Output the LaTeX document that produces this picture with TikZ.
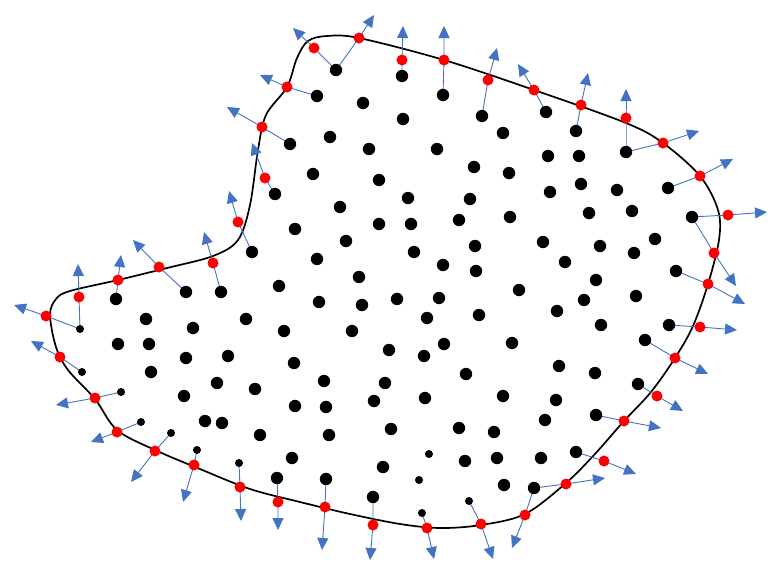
\documentclass[tikz,border=0pt]{standalone}
\usetikzlibrary{arrows.meta}
\definecolor{nblue}{HTML}{4472C4}
\definecolor{pred}{HTML}{FF0000}
\tikzset{
  normalarrow/.style={draw=nblue, line width=0.9pt, -{Triangle[length=12pt,width=11pt]}},
  boundary/.style={line width=1.7pt},
  bigdot/.style={fill=black},
  reddot/.style={fill=pred},
}
\begin{document}
\begin{tikzpicture}[x=1pt,y=-1pt]
\useasboundingbox (0,0) rectangle (780,573);
% boundary curve
\draw[boundary] plot[smooth cycle, tension=0.55] coordinates {
 (50,315) (56,299) (70,291) (118,280) (167,268) (213,256) (238,240) (250,205) (258,150)
 (266,115) (287,87) (297,58) (308,41) (327,36) (359,38) (444,60) (534,90) (626,123)
 (663,143) (700,176) (718,210) (719,240) (708,284) (693,326) (675,358) (651,392)
 (624,421) (594,455) (566,483) (525,514) (481,525) (440,528) (400,524) (350,514)
 (300,502) (250,489) (200,469) (155,450) (117,430) (95,399) (68,370) (56,347)};
% interior points that emit normals
\foreach \n/\x/\y in {A1/336/70, A2/402/76, A3/443/95, A4/482/116, A5/546/112, A6/576/131,
  A7/626/152, A8/668/188, A9/692/217, A10/676/271, A11/669/325, A12/645/340, A13/638/384,
  A14/596/415, A15/576/452, A16/534/488, a17/469/501, a18/422/513, A19/373/497, A20/326/479,
  A21/277/478, a22/239/463, a23/197/450, a24/171/433, a25/141/422, a26/121/392, a27/82/372,
  a28/80/329, A29/116/299, A30/186/292, A31/221/292, A32/252/252, A33/275/194, A34/290/144,
  A35/317/96}
  \coordinate (\n) at (\x,\y);
% boundary points
\foreach \i/\x/\y in {1/314/48, 2/359/38, 3/402/60, 4/444/60, 5/488/80, 6/534/90, 7/581/105,
  8/626/118, 9/663/143, 10/700/176, 11/728/215, 12/714/253, 13/708/284, 14/700/327,
  15/675/358, 16/657/396, 17/624/421, 18/604/461, 19/566/484, 20/525/515, 21/481/524,
  22/427/528, 23/373/525, 24/325/507, 25/278/502, 26/240/487, 27/194/465, 28/155/451,
  29/117/432, 30/95/398, 31/60/357, 32/46/316, 33/79/297, 34/118/280, 35/159/267,
  36/213/263, 37/238/222, 38/265/178, 39/262/127, 40/287/87}
  \coordinate (r\i) at (\x,\y);
% arrow tips
\foreach \i/\x/\y in {1/293/28, 2/374/15, 3/403/26, 4/444/26, 5/497/48, 6/518/64, 7/588/73,
  8/626/89, 9/699/131, 10/733/159, 11/767/212, 12/736/286, 13/745/304, 14/737/330,
  15/708/374, 16/683/411, 17/661/428, 18/636/474, 19/605/478, 20/512/548, 21/493/559,
  22/434/559, 23/370/560, 24/322/550, 25/278/530, 26/241/521, 27/183/502, 28/131/482,
  29/91/442, 30/56/405, 31/31/341, 32/14/305, 33/78/264, 34/121/255, 35/133/240,
  36/204/232, 37/229/191, 38/252/143, 39/227/107, 40/260/75}
  \coordinate (t\i) at (\x,\y);
% normals
\foreach \s/\i in {A1/1, A1/2, A2/3, A3/4, A4/5, A5/6, A6/7, A7/8, A7/9, A8/10, A9/11, A9/12,
  A10/13, A11/14, A12/15, A13/16, A14/17, A15/18, A16/19, A16/20, a17/21, a18/22, A19/23,
  A20/24, A21/25, a22/26, a23/27, a24/28, a25/29, a26/30, a27/31, a28/32, a28/33, A29/34,
  A30/35, A31/36, A32/37, A33/38, A34/39, A35/40}
  \draw[normalarrow] (\s) -- (r\i) -- (t\i);
% red boundary dots
\foreach \i in {1,...,40} \fill[reddot] (r\i) circle (5.5pt);
% black dots of the normal sources
\foreach \n in {A1,A2,A3,A4,A5,A6,A7,A8,A9,A10,A11,A12,A13,A14,A15,A16,A19,A20,A21,A29,A30,A31,A32,A33,A34,A35}
  \fill[bigdot] (\n) circle (6.2pt);
\foreach \n in {a17,a18,a22,a23,a24,a25,a26,a27,a28}
  \fill[bigdot] (\n) circle (4pt);
% other interior points
\foreach \x/\y in {363/103, 403/119, 330/137, 369/149, 437/149, 313/174, 379/180, 503/133,
  474/167, 509/173, 408/198, 470/199, 548/156, 579/156, 550/192, 581/184, 617/190, 510/217,
  589/213, 632/211, 655/239, 543/242, 600/246, 634/253, 565/262, 596/280, 519/290, 584/300,
  636/296, 557/311, 601/325, 512/343, 559/366, 595/373, 503/396, 556/400, 545/420,
  340/207, 379/224, 411/224, 459/220, 295/229, 346/241, 414/252, 475/246, 317/259, 443/265,
  476/271, 359/277, 279/286, 319/302, 362/305, 397/299, 439/298, 479/315, 246/319, 427/318,
  284/331, 352/331, 389/350, 424/356, 444/344, 228/356, 294/363, 217/383, 255/389, 324/381,
  385/383, 466/374, 374/401, 425/398, 146/319, 193/328, 118/344, 149/344, 186/358, 151/372,
  184/396, 205/421, 222/423, 260/435, 295/406, 326/407, 329/435, 391/429, 459/428, 494/432,
  292/458, 383/467, 465/461, 497/458, 504/485, 541/458}
  \fill[bigdot] (\x,\y) circle (6.2pt);
\foreach \x/\y in {429/454, 419/480}
  \fill[bigdot] (\x,\y) circle (4pt);
\end{tikzpicture}
\end{document}
